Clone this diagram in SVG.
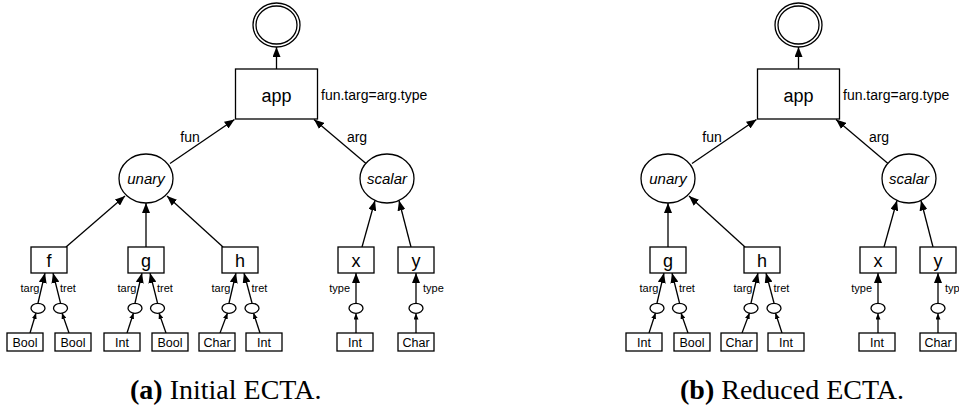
<svg xmlns="http://www.w3.org/2000/svg" width="959" height="406" viewBox="0 0 959 406">
  <style>
    .ln { fill: none; stroke: #000; stroke-width: 1.3; }
    .big { marker-end: url(#ah); }
    .sm { marker-end: url(#ahs); }
    .shape { fill: #fff; stroke: #000; stroke-width: 1.3; }
    text { font-family: "Liberation Sans", Arial, Helvetica, sans-serif; fill: #000; }
    .lbl { font-size: 18px; text-anchor: middle; }
    .state { font-size: 15px; font-style: italic; text-anchor: middle; }
    .edge { font-size: 14px; }
    .sub { font-size: 11px; }
    .leaf { font-size: 12.5px; text-anchor: middle; }
    .cap { font-family: "Liberation Serif", "Times New Roman", serif; font-size: 28px; }
  </style>
  <defs>
    <marker id="ah" viewBox="0 0 10 8" refX="10" refY="4" markerWidth="10" markerHeight="8" markerUnits="userSpaceOnUse" orient="auto">
      <path d="M0,0 L10,4 L0,8 z" fill="#000"/>
    </marker>
    <marker id="ahs" viewBox="0 0 6 5" refX="6" refY="2.5" markerWidth="6" markerHeight="5" markerUnits="userSpaceOnUse" orient="auto">
      <path d="M0,0 L6,2.5 L0,5 z" fill="#000"/>
    </marker>
  </defs>

  <rect width="959" height="406" fill="#fff"/>

  <!-- (a) initial automaton -->
  <g id="panel-a">
    <g id="a-edges">
      <line class="ln big" x1="276.5" y1="69" x2="276.5" y2="47"/>
      <line class="ln big" x1="170" y1="163.5" x2="234.5" y2="119.5"/>
      <line class="ln big" x1="366" y1="163.5" x2="314" y2="119.5"/>
      <line class="ln big" x1="66" y1="247" x2="125" y2="196"/>
      <line class="ln big" x1="146" y1="247" x2="146" y2="203"/>
      <line class="ln big" x1="223" y1="247" x2="167" y2="196"/>
      <line class="ln big" x1="362" y1="247" x2="375" y2="200.5"/>
      <line class="ln big" x1="411" y1="247" x2="399" y2="200.5"/>
      <line class="ln big" x1="38" y1="303" x2="45" y2="273"/>
      <line class="ln big" x1="60.5" y1="303" x2="53" y2="273"/>
      <line class="ln big" x1="135" y1="303" x2="142" y2="273"/>
      <line class="ln big" x1="157.5" y1="303" x2="150" y2="273"/>
      <line class="ln big" x1="229" y1="303" x2="236" y2="273"/>
      <line class="ln big" x1="252" y1="303" x2="244" y2="273"/>
      <line class="ln big" x1="356" y1="303" x2="356" y2="273"/>
      <line class="ln big" x1="416" y1="303" x2="416" y2="273"/>
      <line class="ln sm" x1="30" y1="333" x2="36" y2="313"/>
      <line class="ln sm" x1="69" y1="333" x2="62" y2="313"/>
      <line class="ln sm" x1="127" y1="333" x2="133.5" y2="313"/>
      <line class="ln sm" x1="166" y1="333" x2="159" y2="313"/>
      <line class="ln sm" x1="220" y1="333" x2="227.5" y2="313"/>
      <line class="ln sm" x1="260" y1="333" x2="253.5" y2="313"/>
      <line class="ln sm" x1="356" y1="333" x2="356" y2="313.5"/>
      <line class="ln sm" x1="416" y1="333" x2="416" y2="313.5"/>
      <text class="edge" x="190" y="141.5" text-anchor="middle">fun</text>
      <text class="edge" x="357" y="141.5" text-anchor="middle">arg</text>
      <text class="sub" x="39.5" y="292" text-anchor="end">targ</text>
      <text class="sub" x="60" y="292">tret</text>
      <text class="sub" x="136.5" y="292" text-anchor="end">targ</text>
      <text class="sub" x="157" y="292">tret</text>
      <text class="sub" x="230.5" y="292" text-anchor="end">targ</text>
      <text class="sub" x="251.5" y="292">tret</text>
      <text class="sub" x="350" y="292" text-anchor="end">type</text>
      <text class="sub" x="423" y="292">type</text>
    </g>
    <g id="a-accept">
      <ellipse class="shape" cx="276.5" cy="25" rx="23.5" ry="22"/>
      <ellipse class="shape" cx="276.5" cy="25" rx="20.5" ry="19"/>
    </g>
    <g id="a-app">
      <rect class="shape" x="235.5" y="69" width="82" height="50"/>
      <text class="lbl" x="276.5" y="102" font-size="19">app</text>
      <text class="edge" x="321" y="99.5">fun.targ=arg.type</text>
    </g>
    <g id="a-unary">
      <ellipse class="shape" cx="146" cy="178.5" rx="27" ry="24.5"/>
      <text class="state" x="146" y="183.5">unary</text>
    </g>
    <g id="a-scalar">
      <ellipse class="shape" cx="387" cy="178.5" rx="27" ry="24.5"/>
      <text class="state" x="387" y="183.5">scalar</text>
    </g>
    <g id="a-f"><rect class="shape" x="31" y="247" width="36" height="26"/><text class="lbl" x="49" y="266.5">f</text></g>
    <g id="a-g"><rect class="shape" x="128" y="247" width="36" height="26"/><text class="lbl" x="146" y="266.5">g</text></g>
    <g id="a-h"><rect class="shape" x="222" y="247" width="36" height="26"/><text class="lbl" x="240" y="266.5">h</text></g>
    <g id="a-x"><rect class="shape" x="338" y="247" width="36" height="26"/><text class="lbl" x="356" y="266.5">x</text></g>
    <g id="a-y"><rect class="shape" x="398" y="247" width="36" height="26"/><text class="lbl" x="416" y="266.5">y</text></g>
    <g id="a-o1"><ellipse class="shape" cx="38" cy="308.3" rx="7" ry="5"/></g>
    <g id="a-o2"><ellipse class="shape" cx="60.5" cy="308.3" rx="7" ry="5"/></g>
    <g id="a-o3"><ellipse class="shape" cx="135" cy="308.3" rx="7" ry="5"/></g>
    <g id="a-o4"><ellipse class="shape" cx="157.5" cy="308.3" rx="7" ry="5"/></g>
    <g id="a-o5"><ellipse class="shape" cx="229" cy="308.3" rx="7" ry="5"/></g>
    <g id="a-o6"><ellipse class="shape" cx="252" cy="308.3" rx="7" ry="5"/></g>
    <g id="a-o7"><ellipse class="shape" cx="356" cy="308.3" rx="7" ry="5"/></g>
    <g id="a-o8"><ellipse class="shape" cx="416" cy="308.3" rx="7" ry="5"/></g>
    <g id="a-t1"><rect class="shape" x="7" y="333" width="36" height="18"/><text class="leaf" x="25" y="347">Bool</text></g>
    <g id="a-t2"><rect class="shape" x="55" y="333" width="36" height="18"/><text class="leaf" x="73" y="347">Bool</text></g>
    <g id="a-t3"><rect class="shape" x="104" y="333" width="36" height="18"/><text class="leaf" x="122" y="347">Int</text></g>
    <g id="a-t4"><rect class="shape" x="152" y="333" width="36" height="18"/><text class="leaf" x="170" y="347">Bool</text></g>
    <g id="a-t5"><rect class="shape" x="199" y="333" width="36" height="18"/><text class="leaf" x="217" y="347">Char</text></g>
    <g id="a-t6"><rect class="shape" x="246" y="333" width="36" height="18"/><text class="leaf" x="264" y="347">Int</text></g>
    <g id="a-t7"><rect class="shape" x="337" y="333" width="36" height="18"/><text class="leaf" x="355" y="347">Int</text></g>
    <g id="a-t8"><rect class="shape" x="398" y="333" width="36" height="18"/><text class="leaf" x="416" y="347">Char</text></g>
  </g>

  <!-- (b) reduced automaton: f branch removed -->
  <g id="panel-b" transform="translate(522,0)">
    <g id="b-edges">
      <line class="ln big" x1="276.5" y1="69" x2="276.5" y2="47"/>
      <line class="ln big" x1="170" y1="163.5" x2="234.5" y2="119.5"/>
      <line class="ln big" x1="366" y1="163.5" x2="314" y2="119.5"/>
      <line class="ln big" x1="146" y1="247" x2="146" y2="203"/>
      <line class="ln big" x1="223" y1="247" x2="167" y2="196"/>
      <line class="ln big" x1="362" y1="247" x2="375" y2="200.5"/>
      <line class="ln big" x1="411" y1="247" x2="399" y2="200.5"/>
      <line class="ln big" x1="135" y1="303" x2="142" y2="273"/>
      <line class="ln big" x1="157.5" y1="303" x2="150" y2="273"/>
      <line class="ln big" x1="229" y1="303" x2="236" y2="273"/>
      <line class="ln big" x1="252" y1="303" x2="244" y2="273"/>
      <line class="ln big" x1="356" y1="303" x2="356" y2="273"/>
      <line class="ln big" x1="416" y1="303" x2="416" y2="273"/>
      <line class="ln sm" x1="127" y1="333" x2="133.5" y2="313"/>
      <line class="ln sm" x1="166" y1="333" x2="159" y2="313"/>
      <line class="ln sm" x1="220" y1="333" x2="227.5" y2="313"/>
      <line class="ln sm" x1="260" y1="333" x2="253.5" y2="313"/>
      <line class="ln sm" x1="356" y1="333" x2="356" y2="313.5"/>
      <line class="ln sm" x1="416" y1="333" x2="416" y2="313.5"/>
      <text class="edge" x="190" y="141.5" text-anchor="middle">fun</text>
      <text class="edge" x="357" y="141.5" text-anchor="middle">arg</text>
      <text class="sub" x="136.5" y="292" text-anchor="end">targ</text>
      <text class="sub" x="157" y="292">tret</text>
      <text class="sub" x="230.5" y="292" text-anchor="end">targ</text>
      <text class="sub" x="251.5" y="292">tret</text>
      <text class="sub" x="350" y="292" text-anchor="end">type</text>
      <text class="sub" x="423" y="292">type</text>
    </g>
    <g id="b-accept">
      <ellipse class="shape" cx="276.5" cy="25" rx="23.5" ry="22"/>
      <ellipse class="shape" cx="276.5" cy="25" rx="20.5" ry="19"/>
    </g>
    <g id="b-app">
      <rect class="shape" x="235.5" y="69" width="82" height="50"/>
      <text class="lbl" x="276.5" y="102" font-size="19">app</text>
      <text class="edge" x="321" y="99.5">fun.targ=arg.type</text>
    </g>
    <g id="b-unary">
      <ellipse class="shape" cx="146" cy="178.5" rx="27" ry="24.5"/>
      <text class="state" x="146" y="183.5">unary</text>
    </g>
    <g id="b-scalar">
      <ellipse class="shape" cx="387" cy="178.5" rx="27" ry="24.5"/>
      <text class="state" x="387" y="183.5">scalar</text>
    </g>
    <g id="b-g"><rect class="shape" x="128" y="247" width="36" height="26"/><text class="lbl" x="146" y="266.5">g</text></g>
    <g id="b-h"><rect class="shape" x="222" y="247" width="36" height="26"/><text class="lbl" x="240" y="266.5">h</text></g>
    <g id="b-x"><rect class="shape" x="338" y="247" width="36" height="26"/><text class="lbl" x="356" y="266.5">x</text></g>
    <g id="b-y"><rect class="shape" x="398" y="247" width="36" height="26"/><text class="lbl" x="416" y="266.5">y</text></g>
    <g id="b-o3"><ellipse class="shape" cx="135" cy="308.3" rx="7" ry="5"/></g>
    <g id="b-o4"><ellipse class="shape" cx="157.5" cy="308.3" rx="7" ry="5"/></g>
    <g id="b-o5"><ellipse class="shape" cx="229" cy="308.3" rx="7" ry="5"/></g>
    <g id="b-o6"><ellipse class="shape" cx="252" cy="308.3" rx="7" ry="5"/></g>
    <g id="b-o7"><ellipse class="shape" cx="356" cy="308.3" rx="7" ry="5"/></g>
    <g id="b-o8"><ellipse class="shape" cx="416" cy="308.3" rx="7" ry="5"/></g>
    <g id="b-t3"><rect class="shape" x="104" y="333" width="36" height="18"/><text class="leaf" x="122" y="347">Int</text></g>
    <g id="b-t4"><rect class="shape" x="152" y="333" width="36" height="18"/><text class="leaf" x="170" y="347">Bool</text></g>
    <g id="b-t5"><rect class="shape" x="199" y="333" width="36" height="18"/><text class="leaf" x="217" y="347">Char</text></g>
    <g id="b-t6"><rect class="shape" x="246" y="333" width="36" height="18"/><text class="leaf" x="264" y="347">Int</text></g>
    <g id="b-t7"><rect class="shape" x="337" y="333" width="36" height="18"/><text class="leaf" x="355" y="347">Int</text></g>
    <g id="b-t8"><rect class="shape" x="398" y="333" width="36" height="18"/><text class="leaf" x="416" y="347">Char</text></g>
  </g>

  <!-- captions -->
  <text class="cap" x="130" y="398.5"><tspan font-weight="bold">(a)</tspan> Initial ECTA.</text>
  <text class="cap" x="680" y="398.5"><tspan font-weight="bold">(b)</tspan> Reduced ECTA.</text>
</svg>
